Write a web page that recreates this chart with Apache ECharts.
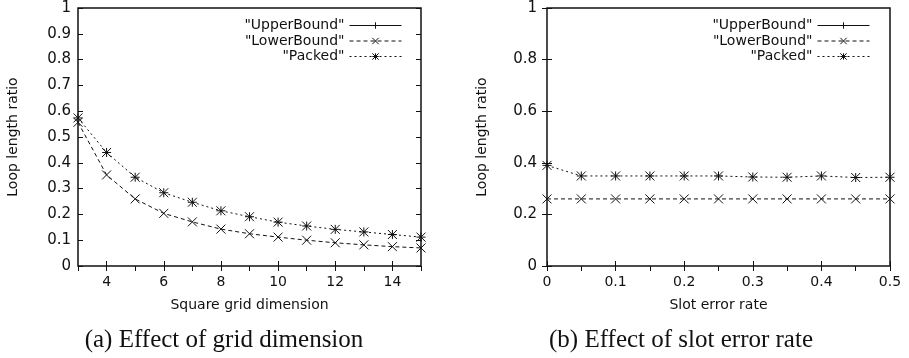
<!DOCTYPE html>
<html>
<head>
<meta charset="utf-8">
<script src="https://cdn.jsdelivr.net/npm/echarts@6/dist/echarts.min.js"></script>
<style>
  html, body { margin: 0; padding: 0; background: #fff; }
  #chart { width: 909px; height: 358px; }
</style>
</head>
<body>
<div id="chart"></div>
<script>
// (a) grid dimension
const gridDims = [3, 4, 5, 6, 7, 8, 9, 10, 11, 12, 13, 14, 15];
const lowerByDim = [0.557, 0.353, 0.260, 0.204, 0.171, 0.143, 0.125, 0.112, 0.100, 0.090, 0.082, 0.075, 0.070];
const packedByDim = [0.574, 0.440, 0.344, 0.284, 0.247, 0.214, 0.191, 0.170, 0.155, 0.142, 0.132, 0.122, 0.112];
const dimTicks = [4, 6, 8, 10, 12, 14];

// (b) slot error rate
const errorRates = [0, 0.05, 0.1, 0.15, 0.2, 0.25, 0.3, 0.35, 0.4, 0.45, 0.5];
const lowerByRate = [0.26, 0.26, 0.26, 0.26, 0.26, 0.26, 0.26, 0.26, 0.26, 0.26, 0.26];
const packedByRate = [0.390, 0.349, 0.349, 0.349, 0.349, 0.349, 0.345, 0.344, 0.349, 0.343, 0.344];

const seriesNames = ['"UpperBound"', '"LowerBound"', '"Packed"'];
const captions = ['(a) Effect of grid dimension', '(b) Effect of slot error rate'];

const FONT = 'DejaVu Sans';
const INK = '#111';

const PLUS = 'path://M5,0L5,10M0,5L10,5';
const CROSS = 'path://M0,0L10,10M10,0L0,10';
const STAR = 'path://M0,0L10,10M10,0L0,10M5,0L5,10M0,5L10,5';

const pairs = (xs, ys) => xs.map((x, i) => [x, ys[i]]);

const chart = echarts.init(document.getElementById('chart'));

const tickStyle = { show: true, inside: true, length: 5, lineStyle: { color: INK, width: 1 } };
const labelStyle = { fontFamily: FONT, fontSize: 14, color: INK };
const yLabelStyle = { fontFamily: FONT, fontSize: 15, color: INK };

function mkSeries(name, xi, yi, data, symbol, dash) {
    return {
        name: name,
        type: 'line',
        xAxisIndex: xi,
        yAxisIndex: yi,
        data: data,
        symbol: symbol,
        symbolSize: 9,
        showAllSymbol: true,
        itemStyle: { color: 'transparent', borderColor: INK, borderWidth: 1 },
        lineStyle: { color: INK, width: 1, type: dash },
        emphasis: { disabled: true },
    };
}

function mkLegend(right) {
    return {
        data: seriesNames, orient: 'vertical', align: 'right', right: right, top: 18.5, padding: 0,
        itemWidth: 52, itemHeight: 8, itemGap: 1.5, textStyle: labelStyle, selectedMode: false,
        lineStyle: { width: 1 },
        itemStyle: { borderWidth: 1 },
    };
}

const option = {
    animation: false,
    grid: [
        { left: 78, right: 488, top: 8, bottom: 92, show: true, borderColor: INK, borderWidth: 1.5 },
        { left: 547, right: 19, top: 8, bottom: 92, show: true, borderColor: INK, borderWidth: 1.5 },
    ],
    legend: [mkLegend(507), mkLegend(39)],
    xAxis: [
        {
            gridIndex: 0, type: 'value', min: 3, max: 15, position: 'bottom',
            axisLine: { show: false }, splitLine: { show: false },
            axisTick: Object.assign({ customValues: dimTicks }, tickStyle),
            axisLabel: Object.assign({ customValues: dimTicks, margin: 9 }, labelStyle),
            name: 'Square grid dimension', nameLocation: 'middle', nameGap: 32,
            nameTextStyle: labelStyle,
        },
        {
            gridIndex: 0, type: 'value', min: 3, max: 15, interval: 1, position: 'top',
            axisLine: { show: false }, splitLine: { show: false },
            axisTick: tickStyle, axisLabel: { show: false },
        },
        {
            gridIndex: 1, type: 'value', min: 0, max: 0.5, interval: 0.1, position: 'bottom',
            axisLine: { show: false }, splitLine: { show: false },
            axisTick: tickStyle,
            axisLabel: Object.assign({ margin: 9 }, labelStyle),
            name: 'Slot error rate', nameLocation: 'middle', nameGap: 32,
            nameTextStyle: labelStyle,
        },
        {
            gridIndex: 1, type: 'value', min: 0, max: 0.5, interval: 0.05, position: 'top',
            axisLine: { show: false }, splitLine: { show: false },
            axisTick: tickStyle, axisLabel: { show: false },
        },
    ],
    yAxis: [
        {
            gridIndex: 0, type: 'value', min: 0, max: 1, interval: 0.1, position: 'left',
            axisLine: { show: false }, splitLine: { show: false },
            axisTick: tickStyle,
            axisLabel: Object.assign({ margin: 7 }, yLabelStyle),
            name: 'Loop length ratio', nameLocation: 'middle', nameGap: 58,
            nameTextStyle: labelStyle,
        },
        {
            gridIndex: 0, type: 'value', min: 0, max: 1, interval: 0.1, position: 'right',
            axisLine: { show: false }, splitLine: { show: false },
            axisTick: tickStyle, axisLabel: { show: false },
        },
        {
            gridIndex: 1, type: 'value', min: 0, max: 1, interval: 0.2, position: 'left',
            axisLine: { show: false }, splitLine: { show: false },
            axisTick: tickStyle,
            axisLabel: Object.assign({ margin: 10 }, yLabelStyle),
            name: 'Loop length ratio', nameLocation: 'middle', nameGap: 58,
            nameTextStyle: labelStyle,
        },
        {
            gridIndex: 1, type: 'value', min: 0, max: 1, interval: 0.2, position: 'right',
            axisLine: { show: false }, splitLine: { show: false },
            axisTick: tickStyle, axisLabel: { show: false },
        },
    ],
    graphic: [
        {
            type: 'text', x: 224, y: 340,
            style: { text: captions[0], font: '25px "Liberation Serif"', fill: INK, textAlign: 'center', textVerticalAlign: 'middle' },
        },
        {
            type: 'text', x: 681, y: 340,
            style: { text: captions[1], font: '25px "Liberation Serif"', fill: INK, textAlign: 'center', textVerticalAlign: 'middle' },
        },
    ],
    series: [
        mkSeries(seriesNames[0], 0, 0, [], PLUS, 'solid'),
        mkSeries(seriesNames[1], 0, 0, pairs(gridDims, lowerByDim), CROSS, [4, 3]),
        mkSeries(seriesNames[2], 0, 0, pairs(gridDims, packedByDim), STAR, [2, 3]),
        mkSeries(seriesNames[0], 2, 2, [], PLUS, 'solid'),
        mkSeries(seriesNames[1], 2, 2, pairs(errorRates, lowerByRate), CROSS, [4, 3]),
        mkSeries(seriesNames[2], 2, 2, pairs(errorRates, packedByRate), STAR, [2, 3]),
    ],
};

chart.setOption(option);
</script>
</body>
</html>
